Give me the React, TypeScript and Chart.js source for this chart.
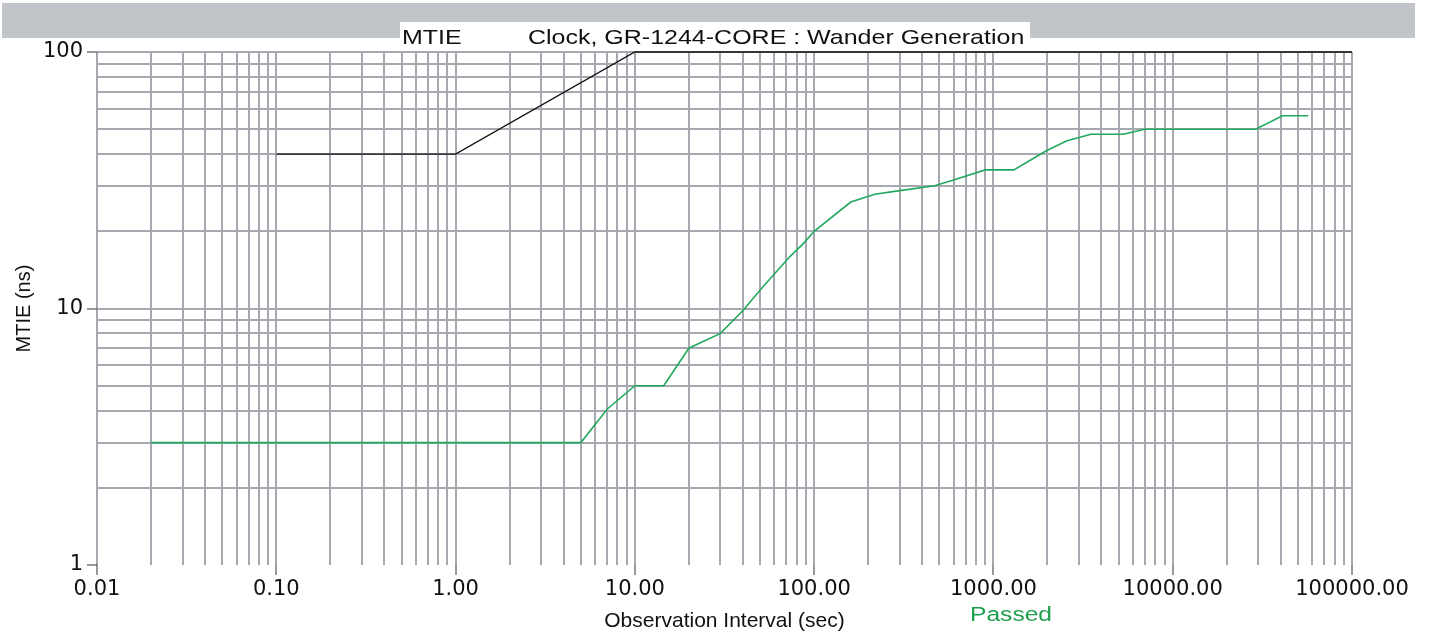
import React, { useEffect, useRef } from 'react';
import { Chart, registerables } from 'chart.js';

Chart.register(...registerables);

// ---- data ----
const maskInterval = [0.1, 1, 10, 100000];
const maskMtie = [40, 40, 100, 100];

const measInterval = [
  0.02, 5, 7, 10, 14.5, 20, 30, 40, 50, 73, 87, 100, 160, 218, 300, 470, 600, 900,
  1300, 1950, 2550, 3500, 5300, 7000, 29000, 41000, 57000,
];
const measMtie = [
  3, 3, 4.05, 5, 5, 7, 8, 9.8, 11.8, 15.9, 17.9, 20, 26, 27.9, 28.8, 30.1, 31.7, 34.7,
  34.7, 41, 45, 47.8, 47.8, 50, 50, 56.4, 56.4,
];

const xMajorTicks = [0.01, 0.1, 1, 10, 100, 1000, 10000, 100000];
const xTickLabels = ['0.01', '0.10', '1.00', '10.00', '100.00', '1000.00', '10000.00', '100000.00'];
const yMajorTicks = [1, 10, 100];
const yTickLabels = ['1', '10', '100'];
const minorSteps = [1, 2, 3, 4, 5, 6, 7, 8, 9];

const titleLeft = 'MTIE';
const titleRight = 'Clock, GR-1244-CORE : Wander Generation';
const xTitle = 'Observation Interval (sec)';
const yTitle = 'MTIE (ns)';
const verdict = 'Passed';

function majorIndex(majors: number[], v: number): number {
  for (let i = 0; i < majors.length; i++) {
    if (Math.abs(v - majors[i]) <= majors[i] * 1e-6) return i;
  }
  return -1;
}

function buildTicks(majors: number[]) {
  const out: { value: number; major: boolean }[] = [];
  majors.forEach((m, i) => {
    if (i === majors.length - 1) {
      out.push({ value: m, major: true });
      return;
    }
    minorSteps.forEach((s) => out.push({ value: parseFloat((m * s).toPrecision(6)), major: s === 1 }));
  });
  return out;
}

const GRID = '#a6aab0';

export default function App() {
  const canvasRef = useRef<HTMLCanvasElement | null>(null);

  useEffect(() => {
    const canvas = canvasRef.current;
    if (!canvas) return;
    const chart = new Chart(canvas, {
      type: 'line',
      data: {
        datasets: [
          {
            label: 'Mask',
            data: maskInterval.map((x, i) => ({ x, y: maskMtie[i] })),
            borderColor: '#111111',
            borderWidth: 1.3,
            pointRadius: 0,
            tension: 0,
            clip: 4,
          },
          {
            label: 'MTIE',
            data: measInterval.map((x, i) => ({ x, y: measMtie[i] })),
            borderColor: '#22a85e',
            borderWidth: 1.6,
            pointRadius: 0,
            tension: 0,
          },
        ],
      },
      options: {
        animation: false,
        responsive: false,
        maintainAspectRatio: false,
        layout: { padding: { left: 12, top: 52, right: 77, bottom: 0 } },
        plugins: {
          legend: { display: false },
          tooltip: { enabled: false },
          title: { display: false },
        },
        scales: {
          x: {
            type: 'logarithmic',
            position: 'bottom',
            min: 0.01,
            max: 100000,
            afterBuildTicks: (s: any) => {
              s.ticks = buildTicks(xMajorTicks);
            },
            afterFit: (s: any) => {
              s.height = 69;
            },
            border: { display: false },
            grid: {
              color: GRID,
              lineWidth: 2,
              tickLength: 10,
              tickWidth: 1,
              tickColor: (ctx: any) =>
                ctx.tick && majorIndex(xMajorTicks, ctx.tick.value) >= 0 ? '#333333' : 'rgba(0,0,0,0)',
            },
            ticks: {
              autoSkip: false,
              maxRotation: 0,
              minRotation: 0,
              padding: 2,
              color: '#111111',
              font: { family: 'DejaVu Sans', size: 21 },
              callback: (v: any) => {
                const i = majorIndex(xMajorTicks, Number(v));
                return i >= 0 ? xTickLabels[i] : '';
              },
            },
            title: {
              display: true,
              text: xTitle,
              color: '#111111',
              font: { family: 'Liberation Sans', size: 21 },
              padding: { top: 0, bottom: 0 },
            },
          },
          y: {
            type: 'logarithmic',
            position: 'left',
            min: 1,
            max: 100,
            afterBuildTicks: (s: any) => {
              s.ticks = buildTicks(yMajorTicks);
            },
            afterFit: (s: any) => {
              s.width = 85;
            },
            border: { display: false },
            grid: {
              color: (ctx: any) => (ctx.tick && ctx.tick.value <= 1.0000001 ? 'rgba(0,0,0,0)' : GRID),
              lineWidth: 2,
              tickLength: 10,
              tickWidth: 1,
              tickColor: (ctx: any) =>
                ctx.tick && majorIndex(yMajorTicks, ctx.tick.value) >= 0 ? '#333333' : 'rgba(0,0,0,0)',
            },
            ticks: {
              autoSkip: false,
              padding: 4,
              color: '#111111',
              font: { family: 'DejaVu Sans', size: 21 },
              callback: (v: any) => {
                const i = majorIndex(yMajorTicks, Number(v));
                return i >= 0 ? yTickLabels[i] : '';
              },
            },
            title: {
              display: true,
              text: yTitle,
              color: '#111111',
              font: { family: 'Liberation Sans', size: 20 },
              padding: { top: 0, bottom: 0 },
            },
          },
        },
      },
    });
    return () => chart.destroy();
  }, []);

  const headerText: React.CSSProperties = {
    position: 'absolute',
    top: 25.5,
    fontFamily: 'Liberation Sans, Arial, sans-serif',
    fontSize: 21,
    lineHeight: '21px',
    color: '#111',
    whiteSpace: 'nowrap',
    transform: 'scaleX(1.19)',
    transformOrigin: 'left top',
    display: 'inline-block',
  };

  return (
    <div
      style={{
        position: 'fixed',
        left: 0,
        top: 0,
        width: 1429,
        height: 634,
        background: '#ffffff',
        overflow: 'hidden',
      }}
    >
      <div style={{ position: 'absolute', left: 2, top: 3, width: 1413, height: 35, background: '#c1c4c9' }} />
      <div style={{ position: 'absolute', left: 400, top: 22, width: 630, height: 19, background: '#ffffff' }} />
      <canvas
        ref={canvasRef}
        width={1429}
        height={634}
        style={{ position: 'absolute', left: 0, top: 0, width: 1429, height: 634 }}
      />
      <span style={{ ...headerText, left: 402 }}>{titleLeft}</span>
      <span style={{ ...headerText, left: 528 }}>{titleRight}</span>
      <span
        style={{
          position: 'absolute',
          left: 970,
          top: 603.5,
          fontFamily: 'Liberation Sans, Arial, sans-serif',
          fontSize: 20,
          lineHeight: '20px',
          color: '#1f9f4e',
          whiteSpace: 'nowrap',
          display: 'inline-block',
          transform: 'scaleX(1.23)',
          transformOrigin: 'left top',
        }}
      >
        {verdict}
      </span>
    </div>
  );
}
